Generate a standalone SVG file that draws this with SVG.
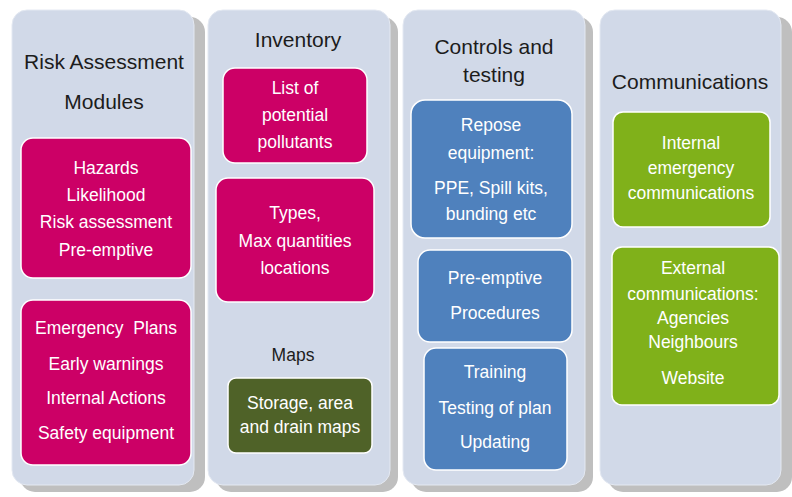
<svg xmlns="http://www.w3.org/2000/svg" width="792" height="497" viewBox="0 0 792 497">
<style>
.shadow{fill:#bfbfbf}
.panel{fill:#d1d9e8;stroke:#e4e9f2;stroke-width:1}
.box{stroke:#ffffff;stroke-width:1.5}
.pink{fill:#cc0066}
.blue{fill:#4f81bd}
.green{fill:#80b11a}
.olive{fill:#4f6228}
text{font-family:"Liberation Sans",Arial,sans-serif;text-anchor:middle}
.title{font-size:21px;fill:#1c1c1c}
.lbl{font-size:17.5px;fill:#ffffff}
.sub{font-size:17.5px;fill:#1c1c1c}
</style>
<rect width="792" height="497" fill="#ffffff"/>
<g id="col-risk">
<rect class="shadow" x="20" y="17" width="185" height="475" rx="15"/>
<rect class="panel" x="12" y="10" width="182" height="475" rx="15"/>
<text class="title" x="104" y="69">Risk Assessment</text>
<text class="title" x="104" y="109">Modules</text>
<g id="risk-box1">
<rect class="box pink" x="21" y="138" width="170" height="140" rx="12"/>
<text class="lbl" x="106" y="174">Hazards</text>
<text class="lbl" x="106" y="201">Likelihood</text>
<text class="lbl" x="106" y="228">Risk assessment</text>
<text class="lbl" x="106" y="256">Pre-emptive</text>
</g>
<g id="risk-box2">
<rect class="box pink" x="21" y="300" width="170" height="165" rx="12"/>
<text class="lbl" x="106" y="334" xml:space="preserve">Emergency  Plans</text>
<text class="lbl" x="106" y="370">Early warnings</text>
<text class="lbl" x="106" y="404">Internal Actions</text>
<text class="lbl" x="106" y="439">Safety equipment</text>
</g>
</g>
<g id="col-inventory">
<rect class="shadow" x="216" y="17" width="182" height="475" rx="15"/>
<rect class="panel" x="208" y="10" width="182" height="475" rx="15"/>
<text class="title" x="298" y="47">Inventory</text>
<g id="inv-box1">
<rect class="box pink" x="223" y="68" width="144" height="95" rx="12"/>
<text class="lbl" x="295" y="94">List of</text>
<text class="lbl" x="295" y="121">potential</text>
<text class="lbl" x="295" y="148">pollutants</text>
</g>
<g id="inv-box2">
<rect class="box pink" x="216" y="178" width="158" height="124" rx="12"/>
<text class="lbl" x="295" y="219">Types,</text>
<text class="lbl" x="295" y="247">Max quantities</text>
<text class="lbl" x="295" y="274">locations</text>
</g>
<text class="sub" x="293" y="361">Maps</text>
<g id="inv-maps">
<rect class="box olive" x="228" y="378" width="144" height="75" rx="8"/>
<text class="lbl" x="300" y="409">Storage, area</text>
<text class="lbl" x="300" y="433">and drain maps</text>
</g>
</g>
<g id="col-controls">
<rect class="shadow" x="411" y="17" width="182" height="475" rx="15"/>
<rect class="panel" x="403" y="10" width="182" height="475" rx="15"/>
<text class="title" x="494" y="54">Controls and</text>
<text class="title" x="494" y="82">testing</text>
<g id="ctl-box1">
<rect class="box blue" x="411" y="100" width="161" height="138" rx="14"/>
<text class="lbl" x="491" y="131">Repose</text>
<text class="lbl" x="491" y="159">equipment:</text>
<text class="lbl" x="491" y="194">PPE, Spill kits,</text>
<text class="lbl" x="491" y="220">bunding etc</text>
</g>
<g id="ctl-box2">
<rect class="box blue" x="418" y="250" width="154" height="92" rx="12"/>
<text class="lbl" x="495" y="284">Pre-emptive</text>
<text class="lbl" x="495" y="319">Procedures</text>
</g>
<g id="ctl-box3">
<rect class="box blue" x="424" y="348" width="143" height="122" rx="12"/>
<text class="lbl" x="495" y="378">Training</text>
<text class="lbl" x="495" y="414">Testing of plan</text>
<text class="lbl" x="495" y="448">Updating</text>
</g>
</g>
<g id="col-comms">
<rect class="shadow" x="608" y="17" width="184" height="475" rx="15"/>
<rect class="panel" x="600" y="10" width="181" height="475" rx="15"/>
<text class="title" x="690" y="89">Communications</text>
<g id="com-box1">
<rect class="box green" x="613" y="112" width="157" height="115" rx="10"/>
<text class="lbl" x="691" y="149">Internal</text>
<text class="lbl" x="691" y="174">emergency</text>
<text class="lbl" x="691" y="199">communications</text>
</g>
<g id="com-box2">
<rect class="box green" x="612" y="247" width="167" height="158" rx="10"/>
<text class="lbl" x="693" y="274">External</text>
<text class="lbl" x="693" y="300">communications:</text>
<text class="lbl" x="693" y="324">Agencies</text>
<text class="lbl" x="693" y="348">Neighbours</text>
<text class="lbl" x="693" y="384">Website</text>
</g>
</g>
</svg>
